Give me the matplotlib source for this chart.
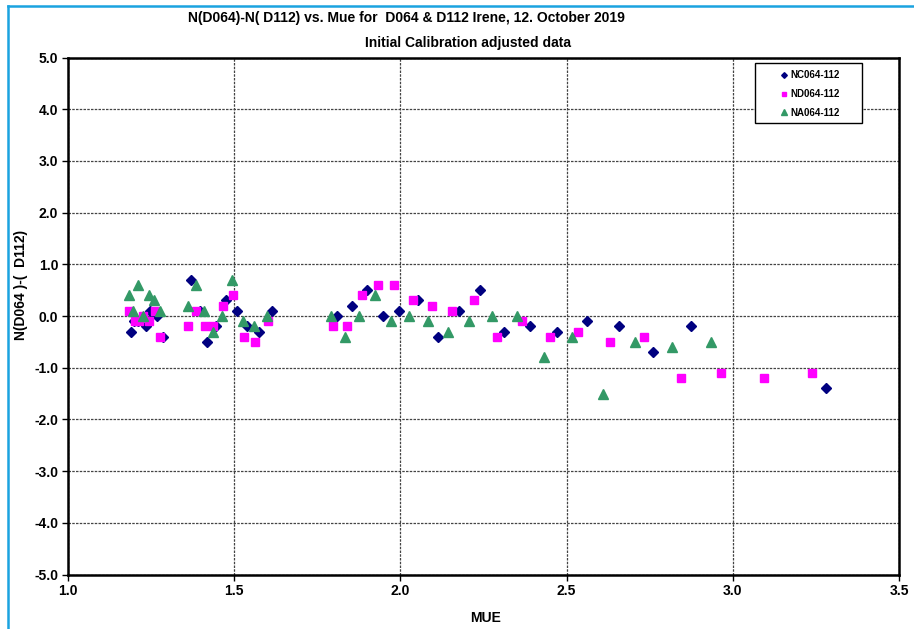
import matplotlib
matplotlib.use("Agg")
import matplotlib.pyplot as plt
from matplotlib.lines import Line2D
from matplotlib.patches import Rectangle

plt.rcParams["font.family"] = ["Liberation Sans", "DejaVu Sans"]

# -------- Data --------
nc_mue = [1.189, 1.200, 1.212, 1.234, 1.247, 1.267, 1.287,
          1.369, 1.397, 1.417, 1.445, 1.475, 1.508, 1.538, 1.575, 1.613,
          1.808, 1.853, 1.899, 1.949, 1.997, 2.054, 2.114, 2.176, 2.240, 2.313,
          2.390, 2.472, 2.560, 2.659, 2.761, 2.875, 3.280]
nc_val = [-0.3, -0.1, -0.1, -0.2, 0.1, 0.0, -0.4,
          0.7, 0.1, -0.5, -0.2, 0.3, 0.1, -0.2, -0.3, 0.1,
          0.0, 0.2, 0.5, 0.0, 0.1, 0.3, -0.4, 0.1, 0.5, -0.3,
          -0.2, -0.3, -0.1, -0.2, -0.7, -0.2, -1.4]

nd_mue = [1.184, 1.202, 1.214, 1.227, 1.245, 1.262, 1.277,
          1.362, 1.385, 1.412, 1.437, 1.465, 1.495, 1.529, 1.563, 1.603,
          1.796, 1.840, 1.884, 1.933, 1.982, 2.037, 2.096, 2.155, 2.222, 2.292,
          2.367, 2.449, 2.534, 2.631, 2.733, 2.844, 2.965, 3.095, 3.239]
nd_val = [0.1, -0.1, -0.1, 0.0, -0.1, 0.1, -0.4,
          -0.2, 0.1, -0.2, -0.2, 0.2, 0.4, -0.4, -0.5, -0.1,
          -0.2, -0.2, 0.4, 0.6, 0.6, 0.3, 0.2, 0.1, 0.3, -0.4,
          -0.1, -0.4, -0.3, -0.5, -0.4, -1.2, -1.1, -1.2, -1.1]

na_mue = [1.184, 1.196, 1.211, 1.227, 1.244, 1.259, 1.277,
          1.360, 1.384, 1.409, 1.435, 1.464, 1.494, 1.526, 1.560, 1.598,
          1.790, 1.833, 1.876, 1.923, 1.972, 2.026, 2.082, 2.142, 2.206, 2.276,
          2.351, 2.432, 2.517, 2.610, 2.707, 2.816, 2.934]
na_val = [0.4, 0.1, 0.6, 0.0, 0.4, 0.3, 0.1,
          0.2, 0.6, 0.1, -0.3, 0.0, 0.7, -0.1, -0.2, 0.0,
          0.0, -0.4, 0.0, 0.4, -0.1, 0.0, -0.1, -0.3, -0.1, 0.0,
          0.0, -0.8, -0.4, -1.5, -0.5, -0.6, -0.5]

x_ticks = [1.0, 1.5, 2.0, 2.5, 3.0, 3.5]
y_ticks = [-5.0, -4.0, -3.0, -2.0, -1.0, 0.0, 1.0, 2.0, 3.0, 4.0, 5.0]

# -------- Figure --------
W, H = 914, 629
fig = plt.figure(figsize=(W / 100, H / 100), dpi=100)
ax = fig.add_axes([68 / W, 1 - 574.5 / H, (899 - 68) / W, (574.5 - 57.5) / H])

ax.plot(nc_mue, nc_val, linestyle="none", marker="D", ms=4.8,
        color="#000080", label="NC064-112")
ax.plot(nd_mue, nd_val, linestyle="none", marker="s", ms=6,
        color="#FF00FF", label="ND064-112")
ax.plot(na_mue, na_val, linestyle="none", marker="^", ms=6.5,
        color="#339966", label="NA064-112")

ax.set_xlim(1.0, 3.5)
ax.set_ylim(-5.0, 5.0)
ax.set_xticks(x_ticks)
ax.set_yticks(y_ticks)
ax.set_xticklabels([f"{v:.1f}" for v in x_ticks])
ax.set_yticklabels([f"{v:.1f}" for v in y_ticks])
ax.tick_params(direction="out", length=4, width=1, labelsize=10, pad=3)
for lab in ax.get_xticklabels() + ax.get_yticklabels():
    lab.set_fontweight("bold")

ax.grid(True, color="#444444", linestyle=(0, (2, 1)), linewidth=0.9)
for sp in ax.spines.values():
    sp.set_linewidth(1.8)
    sp.set_color("black")

# legend: frameless entries inside a hand drawn box
def px_to_ax(px, py):
    return (px - 68) / 831, 1 - (py - 57.5) / 517

x0, y0 = px_to_ax(755, 123)
x1, y1 = px_to_ax(862, 63)
ax.add_patch(Rectangle((x0, y0), x1 - x0, y1 - y0, transform=ax.transAxes,
                       facecolor="white", edgecolor="black", lw=1, zorder=4))
leg = ax.legend(loc="center", bbox_to_anchor=px_to_ax(810, 94),
                prop={"weight": "bold", "size": 7}, frameon=False,
                markerscale=0.6, handlelength=0.8, handletextpad=0.3,
                labelspacing=0.9, borderpad=0, borderaxespad=0)
leg.set_zorder(5)

# titles and axis labels
fig.text(406 / W, 1 - 18 / H, "N(D064)-N( D112) vs. Mue for  D064 & D112 Irene, 12. October 2019",
         ha="center", va="center", fontsize=10, fontweight="bold")
fig.text(468 / W, 1 - 43 / H, "Initial Calibration adjusted data",
         ha="center", va="center", fontsize=10, fontweight="bold")
fig.text(21 / W, 1 - 285 / H, "N(D064 )-(  D112)", rotation=90,
         ha="center", va="center", fontsize=10, fontweight="bold")
fig.text(486 / W, 1 - 618 / H, "MUE", ha="center", va="center",
         fontsize=10, fontweight="bold")

# light blue frame on top and left
blue = "#1AA3E0"
fig.add_artist(Line2D([8 / W, 8 / W], [0, 1 - 6 / H], color=blue, lw=1.8,
                      transform=fig.transFigure))
fig.add_artist(Line2D([8 / W, 1], [1 - 6 / H, 1 - 6 / H], color=blue, lw=1.8,
                      transform=fig.transFigure))

fig.savefig("out.png", dpi=100)
